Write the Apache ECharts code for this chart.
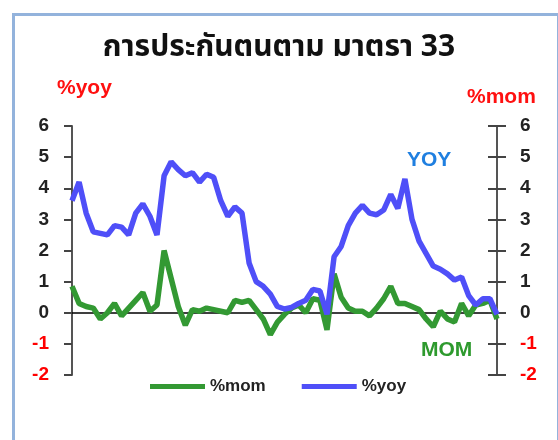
<!DOCTYPE html>
<html>
<head>
<meta charset="utf-8">
<script src="https://cdn.jsdelivr.net/npm/echarts@6/dist/echarts.min.js"></script>
<style>
  html, body { margin: 0; padding: 0; background: #fff; }
  #chart { width: 558px; height: 440px; }
</style>
</head>
<body>
<div id="chart"></div>
<script>
// ข้อมูล %yoy (แกนซ้าย)
var yoy = [3.6, 4.2, 3.2, 2.6, 2.55, 2.5, 2.8, 2.75, 2.5, 3.2,
           3.5, 3.1, 2.5, 4.4, 4.85, 4.6, 4.4, 4.5, 4.2, 4.45,
           4.35, 3.6, 3.1, 3.4, 3.2, 1.6, 1.0, 0.85, 0.6, 0.2,
           0.12, 0.17, 0.3, 0.4, 0.75, 0.7, -0.05, 1.8, 2.13, 2.8,
           3.2, 3.45, 3.2, 3.15, 3.3, 3.8, 3.35, 4.3, 3.0, 2.3,
           1.9, 1.5, 1.4, 1.25, 1.05, 1.15, 0.55, 0.25, 0.45, 0.45,
           -0.05];
// ข้อมูล %mom (แกนขวา)
var mom = [0.85, 0.3, 0.2, 0.15, -0.2, 0.0, 0.3, -0.1, 0.15, 0.4,
           0.65, 0.05, 0.25, 2.0, 1.1, 0.2, -0.4, 0.1, 0.05, 0.15,
           0.1, 0.05, 0.0, 0.4, 0.33, 0.4, 0.1, -0.2, -0.7, -0.3,
           -0.05, 0.15, 0.25, 0.0, 0.45, 0.4, -0.55, 1.25, 0.5, 0.15,
           0.05, 0.05, -0.1, 0.15, 0.45, 0.85, 0.3, 0.3, 0.2, 0.1,
           -0.2, -0.45, 0.05, -0.2, -0.3, 0.3, -0.1, 0.25, 0.3, 0.4,
           -0.2];
var categories = yoy.map(function (v, i) { return String(i + 1); });
var seriesNames = ['%mom', '%yoy'];
var yMin = -2, yMax = 6;

var thaiFont = '"Noto Sans Thai", "Tahoma", "Noto Sans", "DejaVu Sans", sans-serif';
var numFont = '"Liberation Sans", Arial, sans-serif';

var labelRich = {
    k: { color: '#222', fontSize: 19, fontWeight: 'bold', fontFamily: numFont },
    r: { color: '#ff0000', fontSize: 19, fontWeight: 'bold', fontFamily: numFont }
};
function tickLabel(v) {
    return v < 0 ? '{r|' + v + '}' : '{k|' + v + '}';
}

var chart = echarts.init(document.getElementById('chart'));

var option = {
    backgroundColor: '#fff',
    animation: false,
    title: {
        text: 'การประกันตนตาม มาตรา 33',
        left: 'center',
        top: 30,
        textStyle: { fontSize: 30, fontWeight: 'bold', color: '#111', fontFamily: thaiFont }
    },
    legend: {
        data: seriesNames,
        left: 145,
        top: 373,
        icon: 'rect',
        itemWidth: 55,
        itemHeight: 5,
        itemGap: 36,
        textStyle: { fontSize: 17, fontWeight: 'bold', color: '#222', fontFamily: numFont }
    },
    grid: { left: 72, right: 61, top: 126, bottom: 65 },
    xAxis: {
        type: 'category',
        data: categories,
        boundaryGap: false,
        axisLine: { show: true, onZero: true, onZeroAxisIndex: 0, lineStyle: { color: '#000', width: 1.5 } },
        axisTick: { show: false },
        axisLabel: { show: false },
        splitLine: { show: false }
    },
    yAxis: [
        {
            type: 'value', position: 'left', min: yMin, max: yMax, interval: 1,
            axisLine: { show: true, lineStyle: { color: '#555', width: 2 } },
            axisTick: { show: true, length: 8, lineStyle: { color: '#444', width: 2 } },
            axisLabel: { margin: 23, formatter: tickLabel, rich: labelRich },
            splitLine: { show: false }
        },
        {
            type: 'value', position: 'right', min: yMin, max: yMax, interval: 1,
            axisLine: { show: true, lineStyle: { color: '#555', width: 2 } },
            axisTick: { show: true, inside: true, length: 9, lineStyle: { color: '#444', width: 2 } },
            axisLabel: { margin: 23, formatter: tickLabel, rich: labelRich },
            splitLine: { show: false }
        },
        {
            type: 'value', position: 'right', min: yMin, max: yMax, interval: 1,
            axisLine: { show: false },
            axisTick: { show: true, length: 9, lineStyle: { color: '#444', width: 2 } },
            axisLabel: { show: false },
            splitLine: { show: false }
        }
    ],
    series: [
        {
            name: '%mom', type: 'line', yAxisIndex: 1, data: mom,
            symbol: 'none', color: '#339933',
            lineStyle: { width: 5.5, color: '#339933' }
        },
        {
            name: '%yoy', type: 'line', yAxisIndex: 0, data: yoy,
            symbol: 'none', color: '#4f4ff8',
            lineStyle: { width: 5.5, color: '#4f4ff8' }
        }
    ],
    graphic: [
        {
            type: 'rect', left: 11, top: 12, silent: true, z: -1,
            shape: { width: 545, height: 450 },
            style: { fill: 'none', stroke: '#93b3dc', lineWidth: 3 }
        },
        {
            type: 'text', left: 57, top: 78,
            style: { text: '%yoy', fill: '#ff1010', font: 'bold 21px ' + numFont }
        },
        {
            type: 'text', left: 467, top: 87,
            style: { text: '%mom', fill: '#ff1010', font: 'bold 21px ' + numFont }
        },
        {
            type: 'text', left: 407, top: 150,
            style: { text: 'YOY', fill: '#1f7fe0', font: 'bold 21px ' + numFont }
        },
        {
            type: 'text', left: 421, top: 340,
            style: { text: 'MOM', fill: '#2e9a2e', font: 'bold 21px ' + numFont }
        }
    ]
};

chart.setOption(option);
</script>
</body>
</html>
